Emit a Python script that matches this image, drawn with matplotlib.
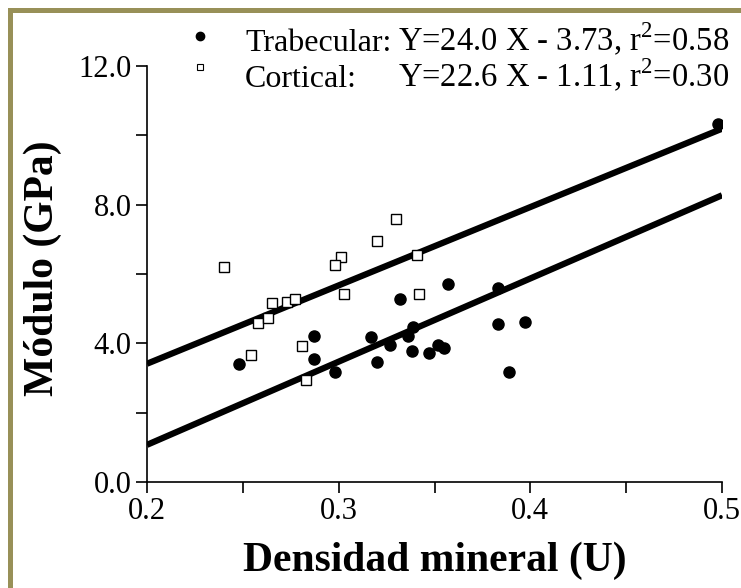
import numpy as np
import matplotlib
matplotlib.use("Agg")
import matplotlib.pyplot as plt
from matplotlib.patches import Rectangle
from matplotlib.lines import Line2D

plt.rcParams['font.family'] = ['Liberation Serif', 'DejaVu Serif']
plt.rcParams['mathtext.fontset'] = 'custom'
plt.rcParams['mathtext.rm'] = 'Liberation Serif'

# trabecular (filled circles)
trab_x = [0.248, 0.287, 0.287, 0.298, 0.357, 0.332, 0.383, 0.383, 0.397, 0.339,
          0.336, 0.317, 0.327, 0.338, 0.347, 0.352, 0.355, 0.320, 0.389, 0.498]
trab_y = [3.39, 4.20, 3.54, 3.18, 5.71, 5.29, 5.60, 4.55, 4.61, 4.48,
          4.21, 4.17, 3.94, 3.79, 3.71, 3.95, 3.87, 3.45, 3.18, 10.32]

# cortical (open squares)
cort_x = [0.240, 0.301, 0.298, 0.303, 0.265, 0.273, 0.277, 0.258, 0.263, 0.281,
          0.254, 0.283, 0.330, 0.320, 0.341, 0.342]
cort_y = [6.20, 6.48, 6.27, 5.41, 5.15, 5.18, 5.27, 4.59, 4.72, 3.93,
          3.67, 2.94, 7.58, 6.95, 6.55, 5.41]

# regression lines from the legend
trab_fit = (24.0, -3.73)
cort_fit = (22.6, -1.11)
fit_x = np.array([0.2, 0.5])

fig = plt.figure(figsize=(7.41, 5.88), dpi=100)
ax = fig.add_axes([0.1984, 0.1804, 0.776, 0.7074])

ax.plot(fit_x, trab_fit[0] * fit_x + trab_fit[1], color='black', lw=4.5, solid_capstyle='butt')
ax.plot(fit_x, cort_fit[0] * fit_x + cort_fit[1], color='black', lw=4.5, solid_capstyle='butt')
ax.plot(trab_x, trab_y, 'o', color='black', ms=8, zorder=3)
ax.plot(cort_x, cort_y, 's', mfc='white', mec='black', mew=1.0, ms=6.5, zorder=3)

ax.set_xlim(0.2, 0.5)
ax.set_ylim(0, 12)
ax.set_xticks([0.2, 0.3, 0.4, 0.5])
ax.set_xticks([0.25, 0.35, 0.45], minor=True)
ax.set_yticks([0, 4, 8, 12])
ax.set_yticks([2, 6, 10], minor=True)
ax.set_xticklabels(['0.2', '0.3', '0.4', '0.5'])
ax.set_yticklabels(['0.0', '4.0', '8.0', '12.0'])
ax.tick_params(which='both', direction='out', length=8, width=1.2, labelsize=22, pad=3)
for s in ['top', 'right']:
    ax.spines[s].set_visible(False)
for s in ['left', 'bottom']:
    ax.spines[s].set_linewidth(1.2)

ax.set_xlabel('Densidad mineral (U)', fontsize=30, fontweight='bold', labelpad=11)
ax.set_ylabel('Módulo (GPa)', fontsize=30, fontweight='bold')
ax.yaxis.set_label_coords(-0.147, 0.515)

# legend drawn by hand
fig.add_artist(Line2D([200 / 741], [1 - 36 / 588], marker='o', color='black', ms=6, ls='none'))
fig.add_artist(Line2D([200 / 741], [1 - 67 / 588], marker='s', mfc='white', mec='black',
                      mew=0.8, ms=4.5, ls='none'))
fig.text(245 / 741, 1 - 51 / 588, 'Trabecular:', fontsize=23, va='baseline')
fig.text(245 / 741, 1 - 87 / 588, 'Cortical:', fontsize=23, va='baseline')
fig.text(398 / 741, 1 - 51 / 588, 'Y=24.0 X - 3.73, r$^2$=0.58', fontsize=23.5, va='baseline')
fig.text(398 / 741, 1 - 87 / 588, 'Y=22.6 X - 1.11, r$^2$=0.30', fontsize=23.5, va='baseline')

# olive frame, top and left
border = '#989058'
fig.add_artist(Rectangle((8 / 741, 1 - 13 / 588), 1, 5 / 588, color=border, lw=0))
fig.add_artist(Rectangle((8 / 741, 0), 5 / 741, 1 - 8 / 588, color=border, lw=0))

fig.savefig('out.png', dpi=100)
